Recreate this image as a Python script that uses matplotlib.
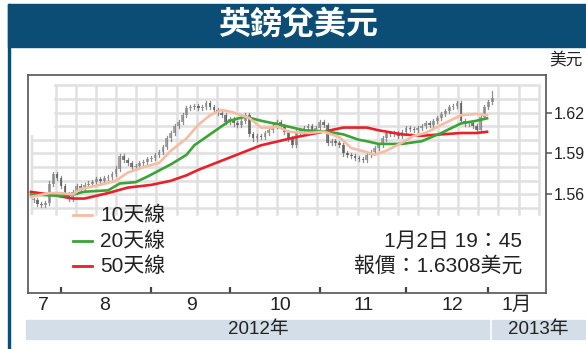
import matplotlib.pyplot as plt
import matplotlib.transforms as mtransforms
from matplotlib.patches import Rectangle
import numpy as np

plt.rcParams['font.family'] = ['Liberation Sans', 'Noto Sans CJK TC', 'DejaVu Sans']

# ---- data ----
title = "英鎊兌美元"
unit = "美元"

# daily closes, day 0 = 1 Aug 2012 (trading days)
first_day = -7
closes = [1.556, 1.553, 1.552, 1.554, 1.568, 1.575, 1.572, 1.566, 1.560, 1.557,
          1.562, 1.566, 1.565, 1.567, 1.568, 1.569, 1.571, 1.570, 1.572, 1.573,
          1.575, 1.579, 1.588, 1.585, 1.583, 1.580, 1.581, 1.583, 1.584, 1.586,
          1.587, 1.589, 1.591, 1.595, 1.601, 1.605, 1.610, 1.613, 1.618, 1.623,
          1.624, 1.625, 1.623, 1.624, 1.627, 1.624, 1.622, 1.620, 1.618, 1.613,
          1.615, 1.612, 1.611, 1.614, 1.618, 1.604, 1.601, 1.603, 1.602, 1.605,
          1.607, 1.610, 1.613, 1.610, 1.606, 1.601, 1.596, 1.606, 1.607, 1.609,
          1.610, 1.607, 1.609, 1.613, 1.611, 1.598, 1.599, 1.598, 1.596, 1.590,
          1.589, 1.588, 1.587, 1.586, 1.585, 1.589, 1.591, 1.594, 1.596, 1.601,
          1.605, 1.604, 1.605, 1.603, 1.606, 1.609, 1.608, 1.607, 1.609, 1.610,
          1.612, 1.611, 1.614, 1.616, 1.619, 1.621, 1.624, 1.625, 1.627, 1.614,
          1.612, 1.612, 1.610, 1.607, 1.617, 1.624, 1.628, 1.631]

ma10_days = [-8, -3, 0, 3, 5, 10, 14, 17, 21, 25, 28, 32, 35, 38, 41, 44, 48,
             51, 54, 55, 58, 63, 67, 71, 74, 78, 80, 83, 87, 90, 93, 97, 102, 106, 109]
ma10 = [1.558, 1.561, 1.561, 1.560, 1.564, 1.567, 1.570, 1.576, 1.580, 1.583, 1.592,
        1.601, 1.611, 1.618, 1.622, 1.620, 1.616, 1.609, 1.609, 1.610, 1.606, 1.605,
        1.606, 1.602, 1.594, 1.591, 1.589, 1.592, 1.598, 1.603, 1.605, 1.611, 1.618,
        1.619, 1.618]

ma20_days = [-8, 0, 3, 6, 12, 15, 19, 22, 28, 32, 34, 39, 43, 47, 51, 56, 62,
             68, 72, 76, 78, 81, 87, 92, 97, 102, 106, 109]
ma20 = [1.560, 1.559, 1.560, 1.562, 1.563, 1.568, 1.569, 1.573, 1.582, 1.589, 1.596,
        1.606, 1.614, 1.617, 1.614, 1.611, 1.607, 1.606, 1.604, 1.600, 1.599, 1.597,
        1.597, 1.599, 1.605, 1.612, 1.614, 1.616]

ma50_days = [-8, -3, 3, 6, 12, 17, 23, 28, 32, 35, 43, 51, 60, 67, 72, 78, 81,
             87, 92, 97, 102, 106, 109]
ma50 = [1.562, 1.560, 1.557, 1.557, 1.561, 1.565, 1.567, 1.570, 1.574, 1.578, 1.587,
        1.596, 1.602, 1.606, 1.609, 1.609, 1.607, 1.604, 1.603, 1.604, 1.605, 1.605,
        1.606]

month_edges = [0, 23, 43, 66, 88, 109]
month_labels = ["7", "8", "9", "10", "11", "12", "1月"]
month_label_days = [-4.6, 11.2, 33.4, 55.9, 77.3, 99.7, 116.3]
y_ticks = [1.56, 1.59, 1.62]
years = ["2012年", "2013年"]
legend_labels = ["10天線", "20天線", "50天線"]
stamp = "1月2日 19：45"
quote = "報價：1.6308美元"
last_high = 1.636

# ---- figure ----
navy = '#0c4d76'
c10, c20, c50 = '#f5bda3', '#3ca336', '#e8202a'
txt = '#222222'
gridc = '#e0e0e0'

fig = plt.figure(figsize=(5.86, 3.49), dpi=100, facecolor='white')
W, H = 586, 349

# title band and left border
fig.patches.append(Rectangle((8 / W, 1 - 47 / H), 1 - 8 / W, 43 / H,
                             transform=fig.transFigure, color=navy, zorder=0))
fig.patches.append(Rectangle((7.5 / W, 0), 2.5 / W, 1 - 4 / H,
                             transform=fig.transFigure, color=navy, zorder=0))
fig.text(298 / W, 1 - 26 / H, title, color='white', fontsize=23, weight='bold',
         ha='center', va='center')
fig.text(566 / W, 1 - 60 / H, unit, color=txt, fontsize=12, ha='center', va='center')

ax = fig.add_axes([28 / W, 1 - 293 / H, 518 / W, 218 / H])
ax.set_xlim(-8.42, 123.7)
ax.set_ylim(1.4878, 1.6475)

# faded background grid
gx0, gx1, gcut = -7.4, 121.4, -1.5
for yv in np.arange(1.55, 1.6405, 0.01):
    x0 = gcut if yv > 1.6025 else gx0
    ax.plot([x0, gx1], [yv, yv], color=gridc, lw=1.8, zorder=1)
for xv in np.arange(-1.3, 122, 5.13):
    ax.plot([xv, xv], [1.546, 1.64], color=gridc, lw=1.8, zorder=1)
ax.plot([gx0, gx0 + 0.01], [1.546, 1.6025], color=gridc, lw=1.8, zorder=1)

# candles
days = np.arange(first_day, first_day + len(closes))
opens = [closes[0]] + closes[:-1]
for d, o, c in zip(days, opens, closes):
    hi = max(o, c) + 0.0015
    lo = min(o, c) - 0.0015
    if d == days[-1]:
        hi = last_high
    ax.plot([d, d], [lo, hi], color='#6a6a6a', lw=0.9, alpha=0.75, zorder=2)
    ax.add_patch(Rectangle((d - 0.35, min(o, c)), 0.7, max(abs(c - o), 0.0006),
                           color='#555555' if c < o else '#8a8a8a', alpha=0.75,
                           lw=0, zorder=2))

ax.plot(ma50_days, ma50, color=c50, lw=1.9, zorder=3, solid_capstyle='butt')
ax.plot(ma20_days, ma20, color=c20, lw=1.9, zorder=4, solid_capstyle='butt')
ax.plot(ma10_days, ma10, color=c10, lw=1.9, zorder=5, solid_capstyle='butt')

# legend
for i, (lab, col) in enumerate(zip(legend_labels, [c10, c20, c50])):
    yy = [0.358, 0.2385, 0.124][i]
    ax.plot([0.087, 0.1236], [yy, yy], color=col, lw=2, transform=ax.transAxes,
            zorder=6)
    ax.text(0.139, yy, lab, fontsize=15, color=txt, va='center', ha='left',
            transform=ax.transAxes, zorder=6)
ax.text(0.9537, 0.2385, stamp, fontsize=15, color=txt, va='center', ha='right',
        transform=ax.transAxes)
ax.text(0.9537, 0.124, quote, fontsize=15, color=txt, va='center', ha='right',
        transform=ax.transAxes)

# axes styling
for s in ax.spines.values():
    s.set_color('#555555')
    s.set_linewidth(1.2)
ax.yaxis.tick_right()
ax.set_yticks(y_ticks)
ax.set_yticklabels([f"{v:.2f}" for v in y_ticks])
ax.tick_params(axis='y', direction='out', length=4, width=1.1, color='#555555',
               labelsize=11.5, labelcolor=txt, pad=1.5)
ax.set_xticks(month_edges)
ax.set_xticklabels([])
ax.tick_params(axis='x', direction='in', length=4, width=1.6, color='#444444')

trans = mtransforms.blended_transform_factory(ax.transData, ax.transAxes)
for d, lab in zip(month_label_days, month_labels):
    ax.text(d, -0.057, lab, fontsize=14, color=txt, ha='center', va='center',
            transform=trans)

# year band
fig.patches.append(Rectangle((26 / W, 1 - 339 / H), 463 / W, 19 / H,
                             transform=fig.transFigure, color='#d4dee8', zorder=0))
fig.patches.append(Rectangle((492 / W, 1 - 339 / H), 94 / W, 19 / H,
                             transform=fig.transFigure, color='#d4dee8', zorder=0))
fig.text(258 / W, 1 - 329.5 / H, years[0], fontsize=13.5, color=txt,
         ha='center', va='center')
fig.text(538 / W, 1 - 329.5 / H, years[1], fontsize=13.5, color=txt,
         ha='center', va='center')

fig.savefig("out.png", dpi=100, facecolor='white')
